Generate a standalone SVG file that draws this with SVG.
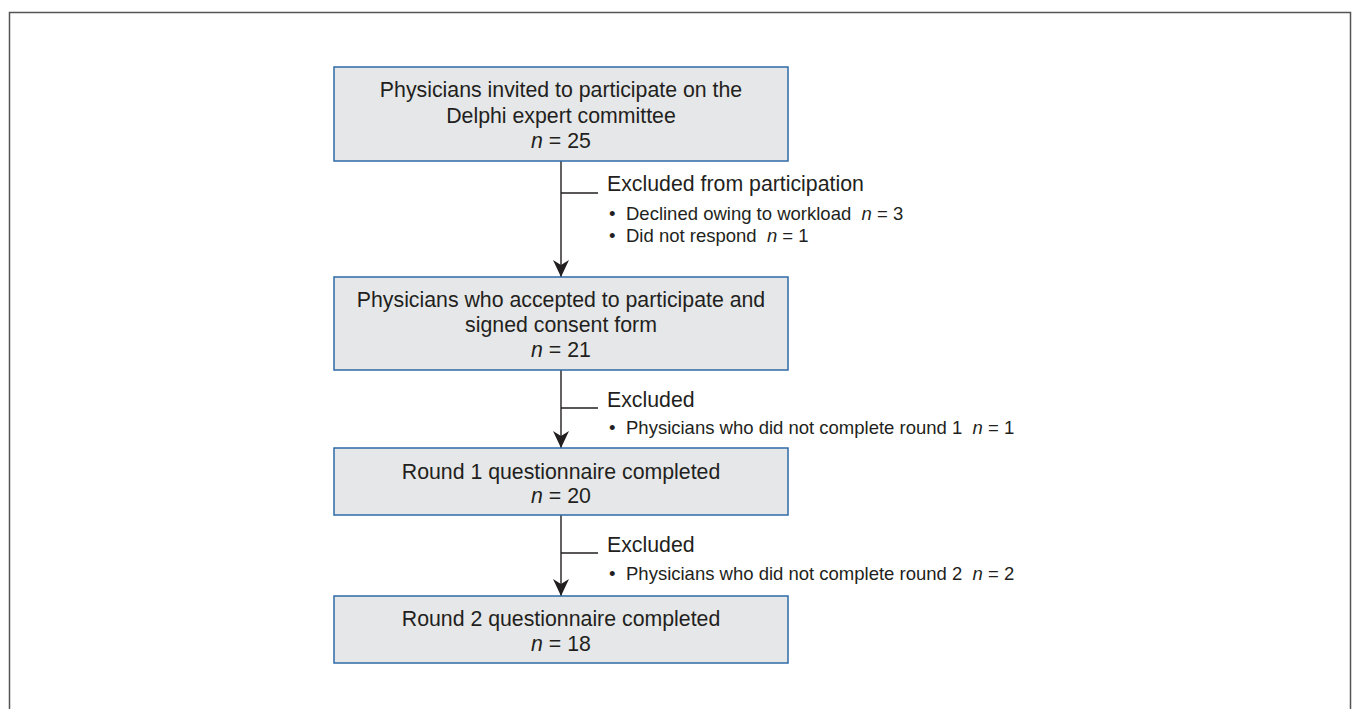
<svg xmlns="http://www.w3.org/2000/svg" width="1355" height="709" viewBox="0 0 1355 709">
<style>
.box{fill:#e6e7e8;stroke:#2e6aa6;stroke-width:1.5}
.t{font-family:"Liberation Sans",Arial,sans-serif;font-size:21.3px;fill:#231f20;text-anchor:middle}
.s{font-family:"Liberation Sans",Arial,sans-serif;font-size:21.3px;fill:#231f20}
.b{font-family:"Liberation Sans",Arial,sans-serif;font-size:18.5px;fill:#231f20}
.ln{stroke:#231f20;stroke-width:1.4;fill:none}
.it{font-style:italic}
</style>
<defs>
<marker id="ah" markerWidth="16" markerHeight="18" refX="8" refY="17" orient="0" markerUnits="userSpaceOnUse" viewBox="0 0 16 18">
<path d="M0,0 L8,5 L16,0 L8,17 Z" fill="#231f20"/>
</marker>
</defs>
<rect width="1355" height="709" fill="#fff"/>
<path d="M9.5,720 V12.5 H1350.5 V720" fill="none" stroke="#555" stroke-width="1.5"/>
<g id="connectors">
<line class="ln" x1="561" y1="161" x2="561" y2="277" marker-end="url(#ah)"/>
<line class="ln" x1="561" y1="193" x2="598" y2="193"/>
<line class="ln" x1="561" y1="370" x2="561" y2="448" marker-end="url(#ah)"/>
<line class="ln" x1="561" y1="408" x2="598" y2="408"/>
<line class="ln" x1="561" y1="515" x2="561" y2="596" marker-end="url(#ah)"/>
<line class="ln" x1="561" y1="553" x2="598" y2="553"/>
</g>
<g id="node1">
<rect class="box" x="334" y="67" width="454" height="94"/>
<text class="t" x="561" y="97">Physicians invited to participate on the</text>
<text class="t" x="561" y="123">Delphi expert committee</text>
<text class="t" x="561" y="148"><tspan class="it">n</tspan> = 25</text>
</g>
<g id="node2">
<rect class="box" x="334" y="277" width="454" height="93"/>
<text class="t" x="561" y="307">Physicians who accepted to participate and</text>
<text class="t" x="561" y="332">signed consent form</text>
<text class="t" x="561" y="357"><tspan class="it">n</tspan> = 21</text>
</g>
<g id="node3">
<rect class="box" x="334" y="448" width="454" height="67"/>
<text class="t" x="561" y="479">Round 1 questionnaire completed</text>
<text class="t" x="561" y="503"><tspan class="it">n</tspan> = 20</text>
</g>
<g id="node4">
<rect class="box" x="334" y="596" width="454" height="67"/>
<text class="t" x="561" y="626">Round 2 questionnaire completed</text>
<text class="t" x="561" y="651"><tspan class="it">n</tspan> = 18</text>
</g>
<g id="label1">
<text class="s" x="607" y="191">Excluded from participation</text>
<text class="b" x="609" y="220">•</text>
<text class="b" x="626" y="220" xml:space="preserve">Declined owing to workload  <tspan class="it">n</tspan> = 3</text>
<text class="b" x="609" y="242">•</text>
<text class="b" x="626" y="242" xml:space="preserve">Did not respond  <tspan class="it">n</tspan> = 1</text>
</g>
<g id="label2">
<text class="s" x="607" y="407">Excluded</text>
<text class="b" x="609" y="434">•</text>
<text class="b" x="626" y="434" xml:space="preserve">Physicians who did not complete round 1  <tspan class="it">n</tspan> = 1</text>
</g>
<g id="label3">
<text class="s" x="607" y="552">Excluded</text>
<text class="b" x="609" y="580">•</text>
<text class="b" x="626" y="580" xml:space="preserve">Physicians who did not complete round 2  <tspan class="it">n</tspan> = 2</text>
</g>
</svg>
